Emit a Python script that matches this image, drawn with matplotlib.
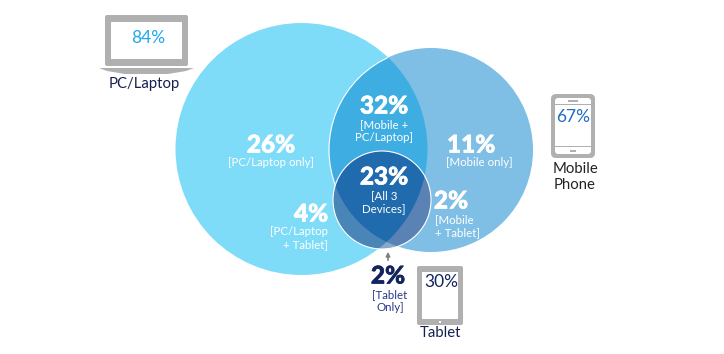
import matplotlib
matplotlib.use("Agg")
import matplotlib.pyplot as plt
import matplotlib.patheffects as pe
from matplotlib.patches import Circle, Rectangle, FancyBboxPatch, Polygon
import numpy as np

plt.rcParams['font.family'] = ['Lato', 'DejaVu Sans']

device_names = ["PC/Laptop", "Mobile\nPhone", "Tablet"]
device_totals = ["84%", "67%", "30%"]
region_values = ["26%", "11%", "32%", "23%", "4%", "2%", "2%"]
region_labels = ["[PC/Laptop only]", "[Mobile only]", "[Mobile +\nPC/Laptop]", "[All 3\nDevices]",
                 "[PC/Laptop\n+ Tablet]", "[Mobile\n+ Tablet]", "[Tablet\nOnly]"]

W, H = 724, 354
fig = plt.figure(figsize=(W / 100, H / 100), dpi=100)
ax = fig.add_axes([0, 0, 1, 1])
ax.set_xlim(0, W)
ax.set_ylim(H, 0)
ax.axis('off')

GREY = "#b0b0b0"
NAVY = "#14245f"

# venn circles in pixels
big = (301.5, 149, 126)
mob = (431, 150, 102)
tab = (382, 200, 49)


def circ(c, **kw):
    return Circle((c[0], c[1]), c[2], **kw)


def clipped(c, clip, color, z, **kw):
    kw.setdefault('fc', color)
    kw.setdefault('ec', 'none')
    p = ax.add_patch(circ(c, zorder=z, **kw))
    p.set_clip_path(circ(clip, transform=ax.transData))
    return p


def lens(a, b):
    # outline of the overlap of two circles
    out = []
    for c, other in [(a, b), (b, a)]:
        th = np.linspace(0, 2 * np.pi, 1440, endpoint=False)
        x = c[0] + c[2] * np.cos(th)
        y = c[1] + c[2] * np.sin(th)
        keep = (x - other[0]) ** 2 + (y - other[1]) ** 2 <= other[2] ** 2
        out.append(np.column_stack([x[keep], y[keep]]))
    pts = np.vstack(out)
    mid = pts.mean(axis=0)
    order = np.argsort(np.arctan2(pts[:, 1] - mid[1], pts[:, 0] - mid[0]))
    return pts[order]


ax.add_patch(circ(big, fc="#7fdcf9", ec='none', zorder=1))
ax.add_patch(circ(mob, fc="#7fbee5", ec='none', zorder=2))
clipped(big, mob, "#3eaee2", 3)
clipped(mob, big, 'none', 4, fc='none', ec='white', lw=0.8)

# tablet parts on top
ax.add_patch(circ(tab, fc="#86a8c9", ec='none', zorder=5))
clipped(big, tab, "#4a85b8", 6)
clipped(mob, tab, "#5a82b4", 7)
core = ax.add_patch(Polygon(lens(big, mob), fc="#1f6bad", ec='none', zorder=8))
core.set_clip_path(circ(tab, transform=ax.transData))
ax.add_patch(circ(tab, fc='none', ec='white', lw=0.8, zorder=9))

# region text
val_pos = [(271, 145), (471, 145), (384, 106), (384, 177), (311, 214), (451, 201), (388, 276)]
lab_pos = [(271, 163), (479, 163), (384, 131), (384, 202), (328, 238), (435, 226), (390, 301)]
lab_ha = ['center', 'center', 'center', 'center', 'right', 'left', 'center']
for i, (v, l) in enumerate(zip(region_values, region_labels)):
    col = "white" if i < 6 else NAVY
    ax.text(*val_pos[i], v, color=col, fontsize=17.5, fontweight='black', ha='center', va='center', zorder=10,
            path_effects=[pe.withStroke(linewidth=0.5, foreground=col)])
    ax.text(*lab_pos[i], l, color="white" if i < 6 else "#2a3a8c", fontsize=8.3, ha=lab_ha[i], va='center',
            multialignment=lab_ha[i], linespacing=1.2, zorder=10)

# small arrow up to the tablet-only sliver
ax.annotate("", xy=(388, 249), xytext=(388, 263),
            arrowprops=dict(arrowstyle="-|>", color="#808080", lw=1.2, mutation_scale=6), zorder=10)

# laptop
ax.add_patch(FancyBboxPatch((105, 15), 83, 51, boxstyle="round,pad=0,rounding_size=2", fc=GREY, ec='none'))
ax.add_patch(Rectangle((111, 22), 71, 37, fc='white', ec='none'))
ax.add_patch(Polygon([(99, 68), (194, 68), (186, 71), (168, 74), (125, 74), (107, 71)], fc=GREY, ec='none'))
ax.text(148, 38, device_totals[0], color="#1fa8f0", fontsize=12.5, ha='center', va='center')
ax.text(144, 84, device_names[0], color="#14204f", fontsize=10.7, ha='center', va='center')

# phone
ax.add_patch(FancyBboxPatch((551, 94), 44, 64, boxstyle="round,pad=0,rounding_size=5", fc=GREY, ec='none'))
ax.add_patch(FancyBboxPatch((555, 98), 36, 56, boxstyle="round,pad=0,rounding_size=3", fc='white', ec='none'))
ax.add_patch(Rectangle((555, 104), 36, 1.2, fc=GREY, ec='none'))
ax.add_patch(Rectangle((555, 146), 36, 1.2, fc=GREY, ec='none'))
ax.add_patch(Rectangle((568, 100), 10, 1.5, fc=GREY, ec='none'))
ax.add_patch(Rectangle((570, 150), 6, 1.5, fc=GREY, ec='none'))
ax.text(573, 117, device_totals[1], color="#1f6fc0", fontsize=12.5, ha='center', va='center')
ax.text(575, 177, device_names[1], color="#222222", fontsize=10.7, ha='center', va='center', linespacing=1.15)

# tablet
ax.add_patch(FancyBboxPatch((417, 266), 46, 59, boxstyle="round,pad=0,rounding_size=2", fc=GREY, ec='none'))
ax.add_patch(Rectangle((422, 272), 36, 47, fc='white', ec='none'))
ax.add_patch(Rectangle((439, 321), 2, 2, fc='white', ec='none'))
ax.text(441, 282, device_totals[2], color=NAVY, fontsize=12.5, ha='center', va='center')
ax.text(441, 333, device_names[2], color="#14204f", fontsize=10.7, ha='center', va='center')

fig.savefig("out.png", dpi=100)
